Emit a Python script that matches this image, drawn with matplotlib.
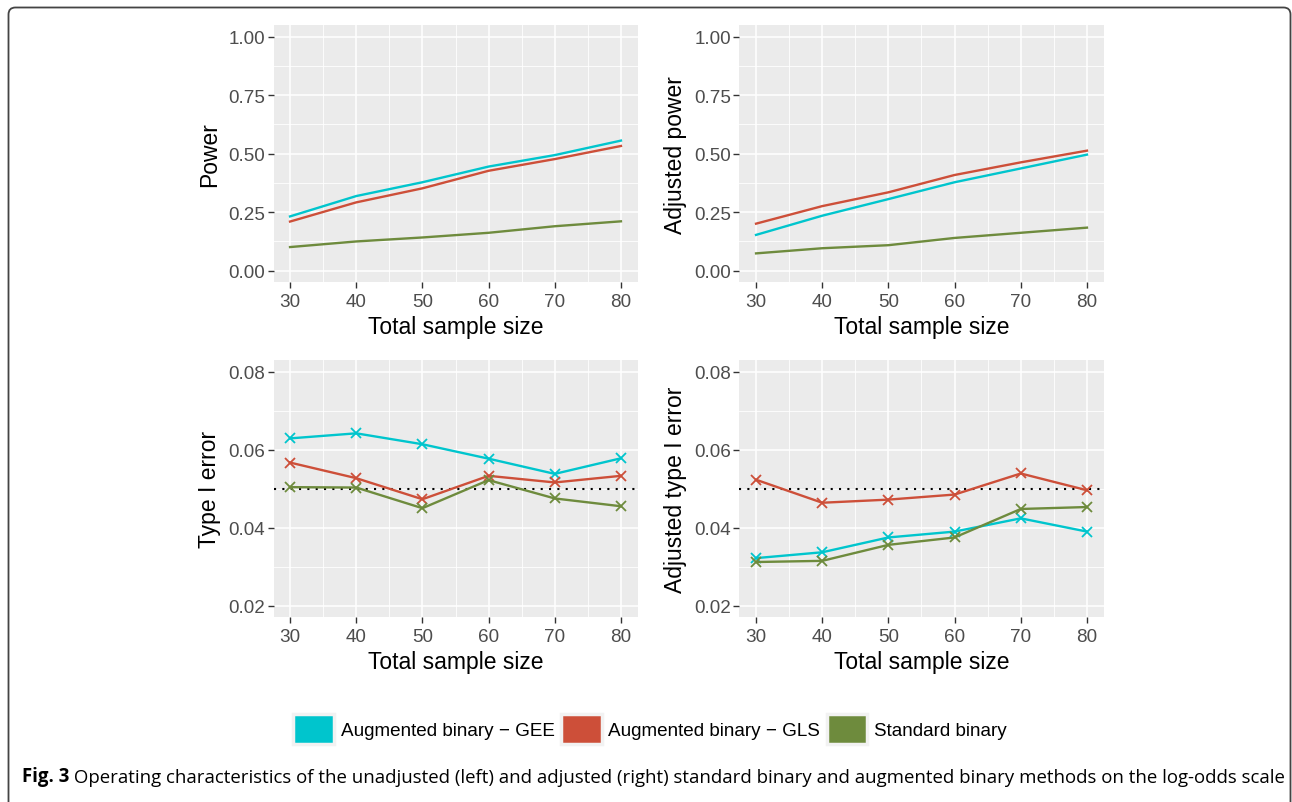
import matplotlib
matplotlib.use("Agg")
import matplotlib.pyplot as plt
from matplotlib.patches import Patch, FancyBboxPatch
from matplotlib.transforms import IdentityTransform

# data
sample_size = [30, 40, 50, 60, 70, 80]
methods = ["Augmented binary \u2212 GEE", "Augmented binary \u2212 GLS", "Standard binary"]
colors = ["#00C5CD", "#CD4F39", "#6E8B3D"]

power_gee = [0.232, 0.319, 0.378, 0.445, 0.494, 0.556]
power_gls = [0.210, 0.292, 0.352, 0.427, 0.477, 0.533]
power_std = [0.101, 0.125, 0.142, 0.162, 0.190, 0.211]

adj_power_gee = [0.153, 0.235, 0.306, 0.378, 0.437, 0.496]
adj_power_gls = [0.201, 0.276, 0.335, 0.409, 0.463, 0.513]
adj_power_std = [0.074, 0.096, 0.109, 0.140, 0.162, 0.184]

t1_gee = [0.0629, 0.0642, 0.0614, 0.0577, 0.0538, 0.0578]
t1_gls = [0.0567, 0.0527, 0.0473, 0.0533, 0.0516, 0.0533]
t1_std = [0.0504, 0.0503, 0.0450, 0.0522, 0.0475, 0.0455]

adj_t1_gee = [0.0322, 0.0337, 0.0375, 0.0390, 0.0424, 0.0390]
adj_t1_gls = [0.0523, 0.0464, 0.0472, 0.0485, 0.0539, 0.0496]
adj_t1_std = [0.0312, 0.0315, 0.0356, 0.0375, 0.0448, 0.0453]

nominal_alpha = 0.05

plt.rcParams['font.family'] = ['Liberation Sans', 'DejaVu Sans']

fig = plt.figure(figsize=(12.92, 8.03), dpi=100)

W, H = 1292, 803


def make_ax(x0, x1, y0, y1):
    # pixel box -> figure fraction
    return fig.add_axes([x0 / W, 1 - y1 / H, (x1 - x0) / W, (y1 - y0) / H])


def style(ax, ylabel, yticks, ylo, yhi, yminor):
    ax.set_facecolor('#EBEBEB')
    for s in ax.spines.values():
        s.set_visible(False)
    ax.set_xlim(27.5, 82.5)
    pad = (yhi - ylo) * 0.05
    ax.set_ylim(ylo - pad, yhi + pad)
    ax.set_xticks(sample_size)
    ax.set_xticks([35, 45, 55, 65, 75], minor=True)
    ax.set_yticks(yticks)
    ax.set_yticks(yminor, minor=True)
    ax.grid(which='major', color='white', lw=1.1)
    ax.grid(which='minor', color='white', lw=0.6)
    ax.set_axisbelow(True)
    ax.tick_params(which='major', length=4, width=1.0, color='#333333',
                   labelsize=13.6, labelcolor='#4D4D4D', pad=2)
    ax.tick_params(axis='x', which='major', pad=3.5)
    ax.tick_params(which='minor', length=0)
    ax.set_xlabel('Total sample size', fontsize=16.5, labelpad=4)
    ax.set_ylabel(ylabel, fontsize=16.5, labelpad=5)


ax1 = make_ax(273.5, 637.5, 26, 283.4)
ax2 = make_ax(739.5, 1103.5, 26, 283.4)
ax3 = make_ax(273.5, 637.5, 361, 618.4)
ax4 = make_ax(739.5, 1103.5, 361, 618.4)

p_ticks = [0, 0.25, 0.5, 0.75, 1.0]
p_minor = [0.125, 0.375, 0.625, 0.875]
e_ticks = [0.02, 0.04, 0.06, 0.08]
e_minor = [0.03, 0.05, 0.07]

for ax, series in [(ax1, [power_gee, power_gls, power_std]),
                   (ax2, [adj_power_gee, adj_power_gls, adj_power_std])]:
    for vals, c in zip(series, colors):
        ax.plot(sample_size, vals, color=c, lw=1.7)

for ax, series in [(ax3, [t1_gee, t1_gls, t1_std]),
                   (ax4, [adj_t1_gee, adj_t1_gls, adj_t1_std])]:
    ax.axhline(nominal_alpha, color='black', lw=1.5, ls=(0, (1, 3)))
    for vals, c in zip(series, colors):
        ax.plot(sample_size, vals, color=c, lw=1.7, marker='x', ms=7, mew=1.3)

style(ax1, 'Power', p_ticks, 0, 1, p_minor)
style(ax2, 'Adjusted power', p_ticks, 0, 1, p_minor)
style(ax3, 'Type I error', e_ticks, 0.02, 0.08, e_minor)
style(ax4, 'Adjusted type I error', e_ticks, 0.02, 0.08, e_minor)
for ax in (ax1, ax2):
    ax.set_yticklabels(['0.00', '0.25', '0.50', '0.75', '1.00'])
for ax in (ax3, ax4):
    ax.set_yticklabels(['0.02', '0.04', '0.06', '0.08'])

handles = [Patch(facecolor=c, edgecolor='#F2F2F2', lw=2.5) for c in colors]
fig.legend(handles, methods, loc='center', bbox_to_anchor=(650 / W, 1 - 730 / H),
           ncol=3, frameon=False, fontsize=13.6, handlelength=2.15,
           handleheight=2.1, handletextpad=0.35, columnspacing=0.35)

# figure frame
frame = FancyBboxPatch((8.5, -30), 1282, 803 - 8.5 + 30,
                       boxstyle='round,pad=0,rounding_size=7',
                       transform=IdentityTransform(), fill=False,
                       ec='#444444', lw=1.3)
fig.patches.append(frame)

# caption
cap = fig.text(22 / W, 1 - 782 / H, 'Fig. 3', fontsize=13.4, fontweight='bold',
               family=['Open Sans', 'DejaVu Sans'], va='baseline')
ax1.annotate(' Operating characteristics of the unadjusted (left) and adjusted (right) '
             'standard binary and augmented binary methods on the log-odds scale',
             xy=(1, 0), xycoords=cap, va='bottom', ha='left', fontsize=13.4,
             family=['Open Sans', 'DejaVu Sans'], annotation_clip=False)

fig.savefig('out.png', dpi=100)
